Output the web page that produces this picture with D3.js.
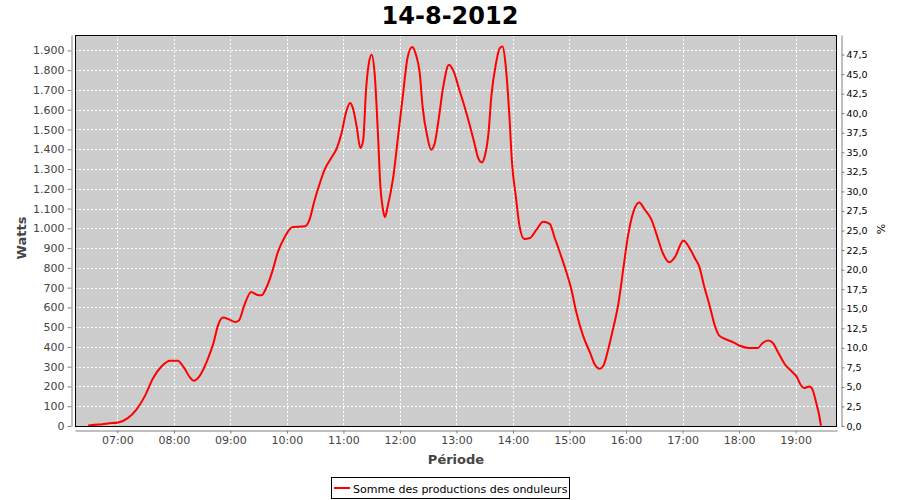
<!DOCTYPE html>
<html>
<head>
<meta charset="utf-8">
<script src="https://cdn.jsdelivr.net/npm/d3@7"></script>
<style>
  html, body { margin: 0; padding: 0; background: #fff; }
  svg { display: block; font-family: "DejaVu Sans", sans-serif; }
</style>
</head>
<body>
<svg id="chart" width="900" height="500"></svg>
<script>
// ---- data ----
const title = "14-8-2012";
const seriesName = "Somme des productions des onduleurs";
const yLabel = "Watts";
const y2Label = "%";
const xLabel = "Période";

const times = [
  "06:29","06:40","06:50","07:01","07:11","07:20","07:29","07:38","07:47","07:56",
  "08:04","08:11","08:17","08:21","08:27","08:35","08:42","08:47","08:52","08:59",
  "09:05","09:09","09:15","09:22","09:28","09:33","09:38","09:45","09:50","09:58",
  "10:06","10:19","10:24","10:29","10:35","10:40","10:47","10:53","10:58","11:03",
  "11:07","11:10","11:14","11:18","11:21","11:24","11:27","11:30","11:33","11:37",
  "11:39","11:42","11:44","11:47","11:53","11:58","12:03","12:08","12:13","12:17",
  "12:21","12:24","12:29","12:33","12:37","12:41","12:46","12:52","12:57","13:03",
  "13:09","13:14","13:19","13:23","13:27","13:30","13:34","13:37","13:42","13:46",
  "13:49","13:52","13:56","13:59","14:03","14:07","14:12","14:18","14:25","14:32",
  "14:39","14:44","14:50","14:57","15:02","15:07","15:14","15:22","15:27","15:32",
  "15:36","15:41","15:46","15:52","15:57","16:02","16:08","16:14","16:20","16:27",
  "16:32","16:39","16:46","16:52","17:01","17:08","17:13","17:18","17:23","17:29",
  "17:34","17:39","17:47","17:54","18:01","18:10","18:20","18:25","18:31","18:36",
  "18:41","18:49","18:56","19:01","19:06","19:09","19:15","19:18","19:22","19:25",
  "19:27"
];
const watts = [
  3,7,13,18,40,82,150,243,302,330,
  330,293,246,229,251,327,420,512,549,538,
  526,534,614,678,664,661,698,790,875,959,
  1007,1010,1044,1136,1229,1297,1356,1406,1482,1591,
  1634,1609,1516,1406,1448,1701,1836,1878,1790,1440,
  1230,1094,1057,1111,1263,1465,1667,1862,1917,1878,
  1786,1617,1465,1398,1432,1549,1718,1828,1794,1701,
  1609,1524,1432,1356,1333,1364,1482,1667,1836,1912,
  1920,1836,1583,1330,1162,1010,946,951,993,1033,
  1023,956,875,774,690,580,462,369,310,290,
  305,386,487,622,791,959,1086,1131,1094,1044,
  976,875,828,855,939,895,850,803,706,605,
  512,457,437,423,406,395,395,420,433,420,
  377,310,276,251,204,192,200,184,116,57,
  0
];
const yTicks = [0,100,200,300,400,500,600,700,800,900,1000,1100,1200,1300,1400,1500,1600,1700,1800,1900];
const y2Ticks = [0,2.5,5,7.5,10,12.5,15,17.5,20,22.5,25,27.5,30,32.5,35,37.5,40,42.5,45,47.5];
const xTickHours = [7,8,9,10,11,12,13,14,15,16,17,18,19];
const xStart = "06:15", xEnd = "19:44";
const yMax = 1978, y2Max = 50;

// ---- helpers ----
const day = (hm) => { const [h,m] = hm.split(":").map(Number); return new Date(2012,7,14,h,m); };
const data = times.map((t,i) => ({t: day(t), v: watts[i]}));
const loc = d3.formatLocale({decimal: ",", thousands: ".", grouping: [3], currency: ["", "€"]});
const fmtY = loc.format(",d");
const fmtY2 = loc.format(".1f");

// ---- layout ----
const P = {l: 75, r: 837, t: 35, b: 426};
const svg = d3.select("#chart");

const x = d3.scaleTime().domain([day(xStart), day(xEnd)]).range([P.l, P.r]);
const y = d3.scaleLinear().domain([0, yMax]).range([P.b, P.t]);
const y2 = d3.scaleLinear().domain([0, y2Max]).range([P.b, P.t]);

// title
svg.append("text").attr("x", 450).attr("y", 24).attr("text-anchor", "middle")
  .attr("font-size", 24).attr("font-weight", "bold").attr("fill", "#000").text(title);

// plot background
svg.append("rect").attr("x", P.l).attr("y", P.t).attr("width", P.r - P.l).attr("height", P.b - P.t)
  .attr("fill", "#cccccc");

// gridlines
const grid = svg.append("g").attr("stroke", "#ffffff").attr("stroke-width", 1).attr("stroke-dasharray", "2,2");
grid.selectAll("line.h").data(yTicks.filter(d => d > 0)).join("line").attr("class", "h")
  .attr("x1", P.l).attr("x2", P.r)
  .attr("y1", d => Math.round(y(d)) + 0.5).attr("y2", d => Math.round(y(d)) + 0.5);
const hourDates = xTickHours.map(h => new Date(2012,7,14,h,0));
grid.selectAll("line.v").data(hourDates).join("line").attr("class", "v")
  .attr("y1", P.t).attr("y2", P.b)
  .attr("x1", d => Math.round(x(d)) + 0.5).attr("x2", d => Math.round(x(d)) + 0.5);

// line
const line = d3.line().x(d => x(d.t)).y(d => y(d.v)).curve(d3.curveMonotoneX);
svg.append("clipPath").attr("id", "clip").append("rect")
  .attr("x", P.l).attr("y", P.t).attr("width", P.r - P.l).attr("height", P.b - P.t);
svg.append("path").datum(data).attr("d", line).attr("fill", "none")
  .attr("stroke", "#ff0000").attr("stroke-width", 2).attr("clip-path", "url(#clip)");

// outline
svg.append("rect").attr("x", P.l + 0.5).attr("y", P.t + 0.5).attr("width", P.r - P.l - 1).attr("height", P.b - P.t)
  .attr("fill", "none").attr("stroke", "#000").attr("stroke-width", 1);

// axes
function styleAxis(g, color) {
  g.select(".domain").attr("stroke", "#808080");
  g.selectAll(".tick line").attr("stroke", "#808080");
  g.selectAll(".tick text").attr("fill", color).attr("font-family", "DejaVu Sans, sans-serif");
}
const gy = svg.append("g").attr("transform", "translate(71.5,0)")
  .call(d3.axisLeft(y).tickValues(yTicks).tickFormat(fmtY).tickSize(4).tickSizeOuter(0).tickPadding(3))
  .attr("font-size", 11);
styleAxis(gy, "#444");

const gy2 = svg.append("g").attr("transform", "translate(841.5,0)")
  .call(d3.axisRight(y2).tickValues(y2Ticks).tickFormat(fmtY2).tickSize(3).tickSizeOuter(0).tickPadding(2))
  .attr("font-size", 9.5);
styleAxis(gy2, "#000");

const gx = svg.append("g").attr("transform", "translate(0,430.5)")
  .call(d3.axisBottom(x).tickValues(hourDates).tickFormat(d3.timeFormat("%H:%M")).tickSize(3).tickSizeOuter(0).tickPadding(3))
  .attr("font-size", 11);
styleAxis(gx, "#444");

// axis labels
svg.append("text").attr("transform", `translate(26,238) rotate(-90)`)
  .attr("text-anchor", "middle").attr("font-size", 13).attr("font-weight", "bold").attr("fill", "#444").text(yLabel);
svg.append("text").attr("transform", `translate(885,229) rotate(-90)`)
  .attr("text-anchor", "middle").attr("font-size", 11).attr("fill", "#000").text(y2Label);
svg.append("text").attr("x", (P.l + P.r) / 2).attr("y", 464).attr("text-anchor", "middle")
  .attr("font-size", 13).attr("font-weight", "bold").attr("fill", "#444").text(xLabel);

// legend
const lg = svg.append("g");
lg.append("rect").attr("x", 331.5).attr("y", 477.5).attr("width", 238).attr("height", 21)
  .attr("fill", "#fff").attr("stroke", "#000").attr("stroke-width", 1);
lg.append("line").attr("x1", 334).attr("x2", 350).attr("y1", 488).attr("y2", 488)
  .attr("stroke", "#ff0000").attr("stroke-width", 2);
lg.append("text").attr("x", 353).attr("y", 492.5).attr("font-size", 11).attr("fill", "#000").text(seriesName);
</script>
</body>
</html>
